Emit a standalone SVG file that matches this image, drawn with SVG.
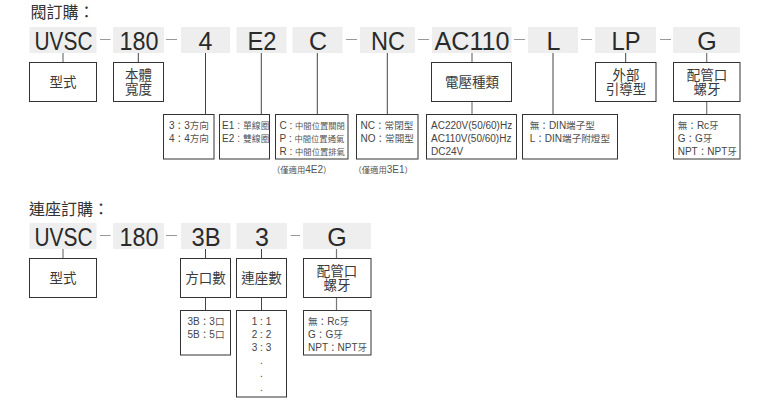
<svg xmlns="http://www.w3.org/2000/svg" width="768" height="403" viewBox="0 0 768 403">
<style>
text{font-family:"Liberation Sans","Noto Sans CJK TC",sans-serif;fill:#2a2a2a;text-anchor:middle}
.code{font-size:25px}
.t{font-size:16px;text-anchor:start;fill:#333}
.lab{font-size:13.5px;fill:#3a3a3a}
.s{font-size:10px;fill:#444}
.sl{font-size:10px;fill:#444;text-anchor:start}
.k{font-size:9.600px;fill:#555}
.m{font-size:8.300px;fill:#555}
.h{font-size:8.800px;fill:#555}
.n{font-size:10px;fill:#555;text-anchor:start}
.g{fill:#eeeeee}
.b{fill:#fff;stroke:#333;stroke-width:1}
.c{stroke:#444;stroke-width:1;fill:none}
.c2{stroke:#777;stroke-width:1.2;fill:none}
.d{stroke:#999;stroke-width:1.200;fill:none}
</style>
<rect width="768" height="403" fill="#fff"/>
<g id="connectors">
<path class="c2" d="M63 53V62M63 249V258M336.500 249V258M706.700 53V62M706.700 101.500V114.500M336.500 297.500V310M472 53V62M472 101.500V114.500"/>
<path class="c" d="M138.300 53V62M205.500 53V114.500M261.300 53V114.500M317.300 53V114.500M387.300 53V114.500M553 53V114.500M625.700 53V62M205.500 249V258M205.500 297.500V310M261.500 249V258M261.500 297.500V310"/>
<path class="d" d="M100 39.500H110.500M166 39.500H177M346 39.500H357M418 39.500H429M514 39.500H525M581 39.500H592M660 39.500H671M100 235.500H110.500M166 235.500H177M290.500 235.500H300"/>
</g>
<text class="t" x="30.500" y="18">閥訂購：</text>
<g id="code-uvsc"><rect class="g" x="29.500" y="27" width="67" height="26"/><text class="code" x="63.500" y="49.500" textLength="58" lengthAdjust="spacingAndGlyphs">UVSC</text></g>
<g id="code-180"><rect class="g" x="113" y="27" width="51" height="26"/><text class="code" x="139" y="49.500" textLength="39" lengthAdjust="spacingAndGlyphs">180</text></g>
<g id="code-4"><rect class="g" x="181" y="27" width="49" height="26"/><text class="code" x="205.500" y="49.500">4</text></g>
<g id="code-e2"><rect class="g" x="236.500" y="27" width="50" height="26"/><text class="code" x="262" y="49.500" textLength="29" lengthAdjust="spacingAndGlyphs">E2</text></g>
<g id="code-c"><rect class="g" x="292.500" y="27" width="50" height="26"/><text class="code" x="318" y="49.500">C</text></g>
<g id="code-nc"><rect class="g" x="360" y="27" width="55" height="26"/><text class="code" x="388" y="49.500" textLength="34" lengthAdjust="spacingAndGlyphs">NC</text></g>
<g id="code-ac110"><rect class="g" x="432" y="27" width="79.500" height="26"/><text class="code" x="472" y="49.500" textLength="75" lengthAdjust="spacingAndGlyphs">AC110</text></g>
<g id="code-l"><rect class="g" x="528" y="27" width="50" height="26"/><text class="code" x="553.500" y="49.500">L</text></g>
<g id="code-lp"><rect class="g" x="595" y="27" width="61" height="26"/><text class="code" x="626" y="49.500" textLength="29" lengthAdjust="spacingAndGlyphs">LP</text></g>
<g id="code-g"><rect class="g" x="673" y="27" width="67" height="26"/><text class="code" x="707" y="49.500">G</text></g>

<g id="label-type"><rect class="b" x="29.500" y="62.500" width="67" height="39"/><text class="lab" x="63" y="87">型式</text></g>
<g id="label-width"><rect class="b" x="113.500" y="62.500" width="50" height="39"/><text class="lab" x="138.500" y="80">本體</text><text class="lab" x="138.500" y="94">寬度</text></g>
<g id="label-voltage"><rect class="b" x="431.500" y="62.500" width="80" height="39"/><text class="lab" x="472" y="87">電壓種類</text></g>
<g id="label-lead"><rect class="b" x="595.500" y="62.500" width="60.500" height="39"/><text class="lab" x="626" y="80">外部</text><text class="lab" x="626" y="94">引導型</text></g>
<g id="label-port"><rect class="b" x="673.500" y="62.500" width="66.500" height="39"/><text class="lab" x="707" y="80">配管口</text><text class="lab" x="707" y="94">螺牙</text></g>

<g id="opt-4"><rect class="b" x="163.500" y="114.500" width="50.500" height="44.500"/><text class="s" x="189" y="128.500">3<tspan class="k">：</tspan>3<tspan class="k">方向</tspan></text><text class="s" x="189" y="141.500">4<tspan class="k">：</tspan>4<tspan class="k">方向</tspan></text></g>
<g id="opt-e2"><rect class="b" x="219.500" y="114.500" width="50" height="44.500"/><text class="sl" x="222" y="128.500">E1<tspan class="h">：單線圈</tspan></text><text class="sl" x="222" y="141.500">E2<tspan class="h">：雙線圈</tspan></text></g>
<g id="opt-c"><rect class="b" x="275.500" y="114.500" width="72.500" height="44.500"/><text class="sl" x="279.500" y="128.500">C<tspan class="m">：中間位置關閉</tspan></text><text class="sl" x="279.500" y="141.500">P<tspan class="m">：中間位置通氣</tspan></text><text class="sl" x="279.500" y="155">R<tspan class="m">：中間位置排氣</tspan></text></g>
<text class="n" x="272" y="172.500"><tspan class="m">（僅適用</tspan>4E2<tspan class="m">）</tspan></text>
<g id="opt-nc"><rect class="b" x="356.500" y="114.500" width="61.500" height="44.500"/><text class="sl" x="360.500" y="128.500">NC<tspan class="k">：常閉型</tspan></text><text class="sl" x="360.500" y="141.500">NO<tspan class="k">：常開型</tspan></text></g>
<text class="n" x="353.500" y="172.500"><tspan class="m">（僅適用</tspan>3E1<tspan class="m">）</tspan></text>
<g id="opt-ac"><rect class="b" x="426.500" y="114.500" width="90" height="44.500"/><text class="sl" x="431" y="128.500">AC220V(50/60)Hz</text><text class="sl" x="431" y="141.500">AC110V(50/60)Hz</text><text class="sl" x="431" y="155">DC24V</text></g>
<g id="opt-l"><rect class="b" x="522.500" y="114.500" width="95" height="44.500"/><text class="sl" x="529.700" y="128.500"><tspan class="k">無：</tspan>DIN<tspan class="k">端子型</tspan></text><text class="sl" x="529.700" y="141.500">L<tspan class="k">：</tspan>DIN<tspan class="k">端子附燈型</tspan></text></g>
<g id="opt-g"><rect class="b" x="673.500" y="114.500" width="66.500" height="44.500"/><text class="sl" x="677.700" y="128.500"><tspan class="k">無：</tspan>Rc<tspan class="k">牙</tspan></text><text class="sl" x="677.700" y="141.500">G<tspan class="k">：</tspan>G<tspan class="k">牙</tspan></text><text class="sl" x="677.700" y="155">NPT<tspan class="k">：</tspan>NPT<tspan class="k">牙</tspan></text></g>

<text class="t" x="29" y="215">連座訂購：</text>
<g id="code2-uvsc"><rect class="g" x="29.500" y="223" width="67" height="26"/><text class="code" x="63.500" y="245.500" textLength="58" lengthAdjust="spacingAndGlyphs">UVSC</text></g>
<g id="code2-180"><rect class="g" x="113" y="223" width="51" height="26"/><text class="code" x="139" y="245.500" textLength="39" lengthAdjust="spacingAndGlyphs">180</text></g>
<g id="code2-3b"><rect class="g" x="181" y="223" width="49.500" height="26"/><text class="code" x="206" y="245.500" textLength="29" lengthAdjust="spacingAndGlyphs">3B</text></g>
<g id="code2-3"><rect class="g" x="236.500" y="223" width="50.500" height="26"/><text class="code" x="262" y="245.500">3</text></g>
<g id="code2-g"><rect class="g" x="303" y="223" width="68" height="26"/><text class="code" x="337" y="245.500">G</text></g>

<g id="label2-type"><rect class="b" x="29.500" y="258.500" width="67" height="39"/><text class="lab" x="63" y="283">型式</text></g>
<g id="label2-ports"><rect class="b" x="180.500" y="258.500" width="50" height="39"/><text class="lab" x="205.500" y="283">方口數</text></g>
<g id="label2-count"><rect class="b" x="236.500" y="258.500" width="50" height="39"/><text class="lab" x="261.500" y="283">連座數</text></g>
<g id="label2-port"><rect class="b" x="303.500" y="258.500" width="67.500" height="39"/><text class="lab" x="337" y="276">配管口</text><text class="lab" x="337" y="290">螺牙</text></g>

<g id="opt2-3b"><rect class="b" x="180.500" y="310.500" width="50" height="44.500"/><text class="s" x="206" y="324.500">3B<tspan class="k">：</tspan>3<tspan class="k">口</tspan></text><text class="s" x="206" y="337.500">5B<tspan class="k">：</tspan>5<tspan class="k">口</tspan></text></g>
<g id="opt2-3"><rect class="b" x="236.500" y="310.500" width="50" height="86.500"/><text class="s" x="261.500" y="324.500">1<tspan class="m">：</tspan>1</text><text class="s" x="261.500" y="337.500">2<tspan class="m">：</tspan>2</text><text class="s" x="261.500" y="350.500">3<tspan class="m">：</tspan>3</text><text class="s" x="261.500" y="363.500">.</text><text class="s" x="261.500" y="377">.</text><text class="s" x="261.500" y="390.500">.</text></g>
<g id="opt2-g"><rect class="b" x="303.500" y="310.500" width="67.500" height="44.500"/><text class="sl" x="308" y="324.500"><tspan class="k">無：</tspan>Rc<tspan class="k">牙</tspan></text><text class="sl" x="308" y="337.500">G<tspan class="k">：</tspan>G<tspan class="k">牙</tspan></text><text class="sl" x="308" y="350.500">NPT<tspan class="k">：</tspan>NPT<tspan class="k">牙</tspan></text></g>
</svg>
